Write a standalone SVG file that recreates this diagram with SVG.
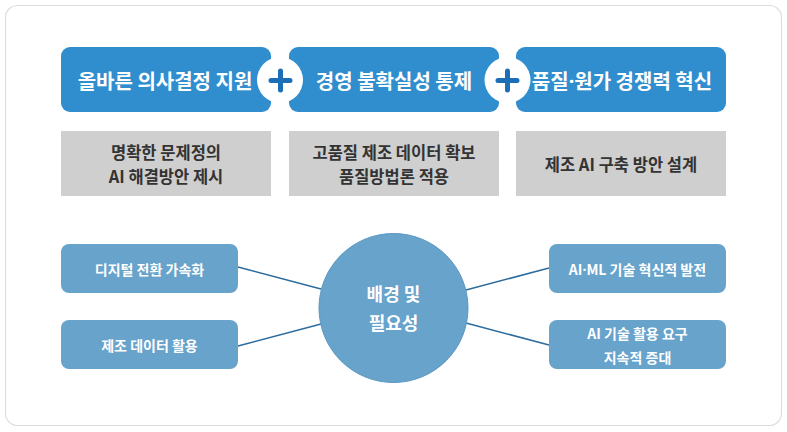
<svg xmlns="http://www.w3.org/2000/svg" width="787" height="432" viewBox="0 0 787 432">
<style>
text{font-family:"Noto Sans CJK KR","Noto Sans",sans-serif;font-weight:700;text-anchor:middle;dominant-baseline:central}
.top{fill:#318ECE}
.ttl{fill:#fff;font-size:20px}
.gray{fill:#CFCFCF}
.gtx{fill:#333;font-size:16.5px}
.sub{fill:#67A3CB}
.stx{fill:#fff;font-size:14px}
.cut{fill:#fff}
.plus{stroke:#1C6FB6;stroke-width:5;stroke-linecap:round}
.conn{stroke:#2D6B9C;stroke-width:1.5;fill:none}
.dot{font-family:"Noto Sans",sans-serif}
</style>
<rect x="5.5" y="5.5" width="776" height="420" rx="12" fill="#fff" stroke="#DDDDDD" stroke-width="1.2"/>
<g id="top1"><rect class="top" x="61" y="47" width="210" height="65" rx="9"/><text class="ttl" x="165" y="80">올바른 의사결정 지원</text></g>
<g id="top2"><rect class="top" x="289" y="47" width="210" height="65" rx="9"/><text class="ttl" x="394" y="80">경영 불확실성 통제</text></g>
<g id="top3"><rect class="top" x="516" y="47" width="210" height="65" rx="9"/><text class="ttl" x="622" y="80">품질<tspan class="dot">·</tspan>원가 경쟁력 혁신</text></g>
<g id="plus1"><circle class="cut" cx="280" cy="80" r="23"/><path class="plus" d="M271 80.5H290M280.5 71V90"/></g>
<g id="plus2"><circle class="cut" cx="507.5" cy="80" r="23"/><path class="plus" d="M498 80.5H517M507.5 71V90"/></g>
<g id="gray1"><rect class="gray" x="61" y="131" width="210" height="65"/><text class="gtx" x="166" y="152">명확한 문제정의</text><text class="gtx" x="166" y="176">AI 해결방안 제시</text></g>
<g id="gray2"><rect class="gray" x="289" y="131" width="210" height="65"/><text class="gtx" x="394" y="152">고품질 제조 데이터 확보</text><text class="gtx" x="394" y="176">품질방법론 적용</text></g>
<g id="gray3"><rect class="gray" x="516" y="131" width="210" height="65"/><text class="gtx" x="621" y="164">제조 AI 구축 방안 설계</text></g>
<g id="connectors">
<line class="conn" x1="238" y1="267" x2="321" y2="289"/>
<line class="conn" x1="238" y1="346" x2="321" y2="324"/>
<line class="conn" x1="466" y1="290" x2="549" y2="268"/>
<line class="conn" x1="466" y1="323" x2="549" y2="345"/>
</g>
<g id="b1"><rect class="sub" x="61" y="244" width="177" height="49" rx="8"/><text class="stx" x="149.5" y="269">디지털 전환 가속화</text></g>
<g id="b2"><rect class="sub" x="61" y="320" width="177" height="49" rx="8"/><text class="stx" x="149.5" y="345">제조 데이터 활용</text></g>
<g id="b3"><rect class="sub" x="549" y="244" width="177" height="49" rx="8"/><text class="stx" x="637.5" y="269">AI<tspan class="dot">·</tspan>ML 기술 혁신적 발전</text></g>
<g id="b4"><rect class="sub" x="549" y="320" width="177" height="49" rx="8"/><text class="stx" x="637.5" y="333">AI 기술 활용 요구</text><text class="stx" x="637.5" y="357">지속적 증대</text></g>
<g id="center"><circle cx="393.5" cy="308" r="74.5" fill="#67A3CB" stroke="#5A97C2" stroke-width="1"/><text x="393.5" y="293" fill="#fff" font-size="18">배경 및</text><text x="393.5" y="322" fill="#fff" font-size="18">필요성</text></g>
</svg>
